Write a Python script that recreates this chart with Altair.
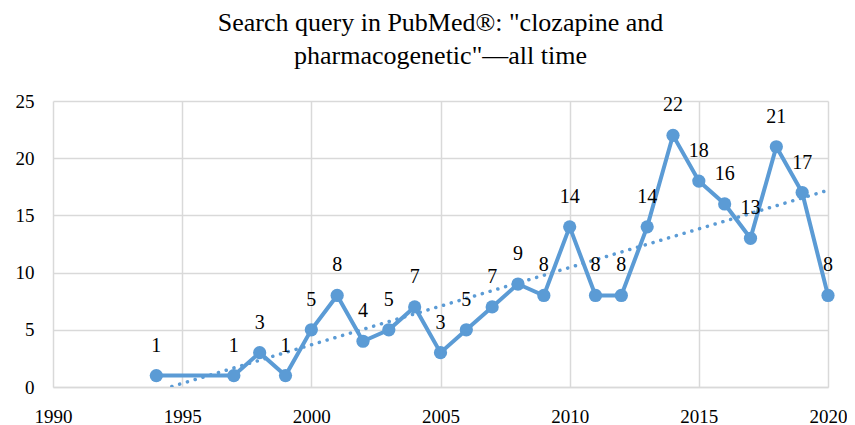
import altair as alt
import pandas as pd

years = [1994, 1997, 1998, 1999, 2000, 2001, 2002, 2003, 2004, 2005, 2006, 2007,
         2008, 2009, 2010, 2011, 2012, 2013, 2014, 2015, 2016, 2017, 2018, 2019, 2020]
counts = [1, 1, 3, 1, 5, 8, 4, 5, 7, 3, 5, 7,
          9, 8, 14, 8, 8, 14, 22, 18, 16, 13, 21, 17, 8]
x_ticks = [1990, 1995, 2000, 2005, 2010, 2015, 2020]
y_ticks = [0, 5, 10, 15, 20, 25]
title_lines = ['Search query in PubMed®: "clozapine and', 'pharmacogenetic"—all time']

df = pd.DataFrame({"year": years, "count": counts})

FONT = "Liberation Serif"
BLUE = "#5b9bd5"
GRID = "#d9d9d9"

x = alt.X("year:Q", scale=alt.Scale(domain=[1990, 2020], nice=False, zero=False),
          axis=alt.Axis(values=x_ticks, format="d", title=None, grid=True, gridColor=GRID,
                        gridWidth=1.5, domainColor=GRID, domainWidth=1.5, ticks=False,
                        labelFont=FONT, labelFontSize=19, labelColor="#000000",
                        labelPadding=20, labelFlush=False))
y = alt.Y("count:Q", scale=alt.Scale(domain=[0, 25], nice=False),
          axis=alt.Axis(values=y_ticks, title=None, grid=True, gridColor=GRID,
                        gridWidth=1.5, domain=False, ticks=False,
                        labelFont=FONT, labelFontSize=19, labelColor="#000000",
                        labelPadding=19))

base = alt.Chart(df)

line = base.mark_line(color=BLUE, strokeWidth=4).encode(x=x, y=y)
pts = base.mark_circle(color=BLUE, size=175, opacity=1).encode(x=x, y=y)
labels = base.mark_text(font=FONT, fontSize=20, color="#000000", baseline="alphabetic",
                        dy=-24).encode(x=x, y=y, text="count:Q")
trend = base.transform_regression("year", "count", extent=[1994, 2020]).mark_line(
    color=BLUE, strokeWidth=3.5, strokeDash=[0.1, 8], strokeCap="round", clip=True
).encode(x=x, y=y)

chart = alt.layer(trend, line, pts, labels).properties(
    width=775, height=286,
    autosize=alt.AutoSizeParams(type="none"),
    padding={"left": 45, "top": 93, "right": 19, "bottom": 38},
    title=alt.TitleParams(text=title_lines, font=FONT, fontSize=26, fontWeight="normal",
                          color="#000000", anchor="middle", lineHeight=33, offset=23),
).configure_view(stroke=None)

chart.save("out.html", embed_options={"renderer": "svg", "actions": False})
